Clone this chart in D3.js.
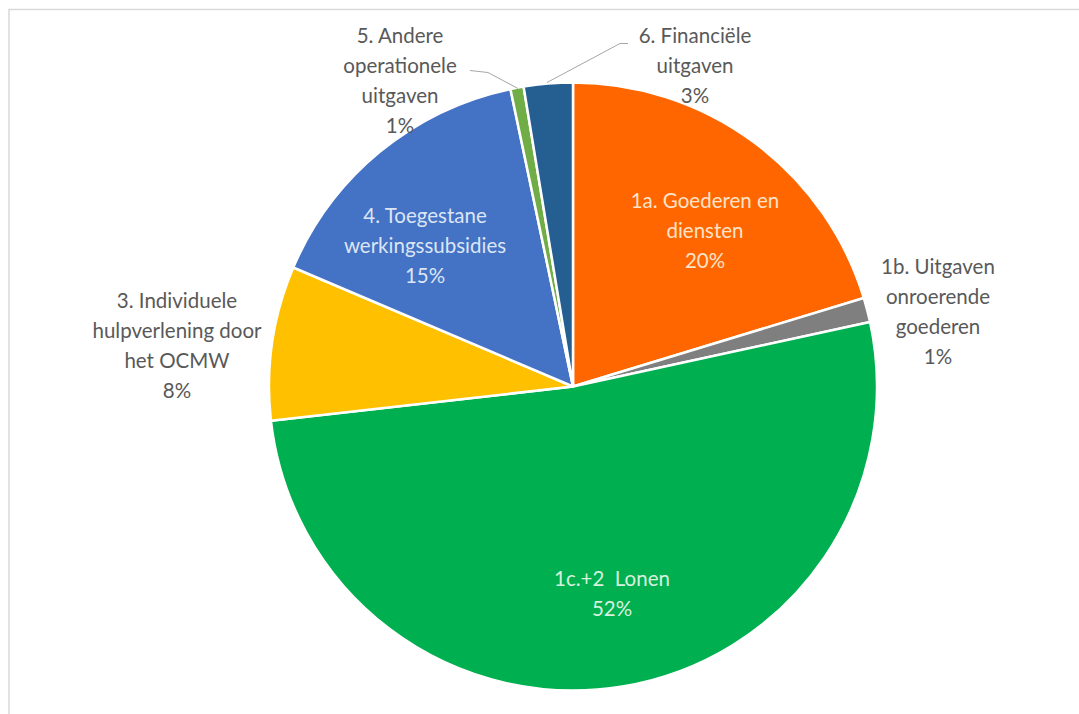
<!DOCTYPE html>
<html>
<head>
<meta charset="utf-8">
<script src="https://cdn.jsdelivr.net/npm/d3@7"></script>
<style>
  html, body { margin: 0; padding: 0; background: #fff; }
  svg { display: block; }
</style>
</head>
<body>
<svg id="chart" width="1079" height="714"></svg>
<script>
// ---- data ----
const categories = [
  "1a. Goederen en diensten",
  "1b. Uitgaven onroerende goederen",
  "1c.+2  Lonen",
  "3. Individuele hulpverlening door het OCMW",
  "4. Toegestane werkingssubsidies",
  "5. Andere operationele uitgaven",
  "6. Financiële uitgaven"
];
const values = [20.3, 1.3, 51.6, 8.2, 15.3, 0.7, 2.6];
const labelLines = [
  ["1a. Goederen en", "diensten"],
  ["1b. Uitgaven", "onroerende", "goederen"],
  ["1c.+2  Lonen"],
  ["3. Individuele", "hulpverlening door", "het OCMW"],
  ["4. Toegestane", "werkingssubsidies"],
  ["5. Andere", "operationele", "uitgaven"],
  ["6. Financiële", "uitgaven"]
];

// ---- styles / layout ----
const colors = ["#FF6600", "#7F7F7F", "#00B050", "#FFC000", "#4472C4", "#70AD47", "#255E91"];
const textColors = ["#FDE3C8", "#595959", "#D6F2DE", "#595959", "#DCE5F5", "#595959", "#595959"];
// label block centre (x) and first line y, relative to pie centre
const labelPos = [
  [132, -186], [365, -120], [39, 192], [-396, -86], [-148, -171], [-173, -351], [122, -351]
];
const leaders = [null, null, null, null, null,
  [[-103, -316], [-85, -314], [-55, -298]],
  [[55, -343], [47, -343], [-26, -304]]
];
const cx = 573, cy = 386.5, R = 304;
const lineH = 30;
const fontFamily = "Lato, 'Open Sans', sans-serif";
const fontSize = 20.5;

const svg = d3.select("#chart");

// frame
svg.append("path")
  .attr("d", `M9,714 L9,9.5 L1079,9.5`)
  .attr("fill", "none").attr("stroke", "#d9d9d9").attr("stroke-width", 1.5);

const pie = d3.pie().sort(null).value(d => d)
  .startAngle(0).endAngle(2 * Math.PI);
const arcs = pie(values);
const arc = d3.arc().innerRadius(0).outerRadius(R);

const g = svg.append("g").attr("transform", `translate(${cx},${cy})`);

g.selectAll("path.slice").data(arcs).enter().append("path")
  .attr("class", "slice")
  .attr("d", arc)
  .attr("fill", (d, i) => colors[i])
  .attr("stroke", "#fff").attr("stroke-width", 2.5).attr("stroke-linejoin", "round");

// leader lines
leaders.forEach((pts, i) => {
  if (!pts) return;
  g.append("path")
    .attr("d", d3.line()(pts))
    .attr("fill", "none").attr("stroke", "#a6a6a6").attr("stroke-width", 1);
});

// labels
const total = d3.sum(values);
arcs.forEach((a, i) => {
  const lines = labelLines[i].concat([Math.round(values[i] / total * 100) + "%"]);
  const t = g.append("text")
    .attr("text-anchor", "middle")
    .attr("font-family", fontFamily)
    .attr("font-size", fontSize)
    .attr("fill", textColors[i]);
  lines.forEach((ln, k) => {
    t.append("tspan")
      .attr("x", labelPos[i][0])
      .attr("y", labelPos[i][1] + k * lineH)
      .attr("dy", "0.35em")
      .style("white-space", "pre")
      .attr("xml:space", "preserve")
      .text(ln);
  });
});
</script>
</body>
</html>
